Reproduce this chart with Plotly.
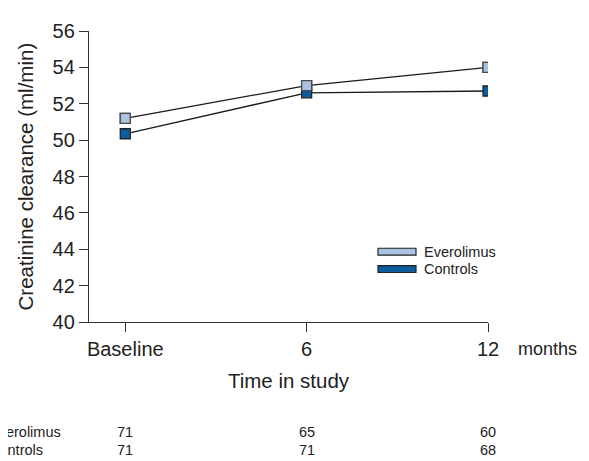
import plotly.graph_objects as go

# ---- data ----
time_points = [0, 1, 2]
time_labels = ["Baseline", "6", "12"]
everolimus = [51.2, 53.0, 54.0]
controls = [50.35, 52.6, 52.7]
n_everolimus = ["71", "65", "60"]
n_controls = ["71", "71", "68"]
y_ticks = [40, 42, 44, 46, 48, 50, 52, 54, 56]

# page offset (browser body margin) so screen coords match the reference
OX, OY = 8, 8
W, H = 581, 453
L, R, T, B = 81, 101, 20, 139
FONT = "Liberation Sans, Arial, sans-serif"
TXT = "#222222"
LIGHT = "#a9c3e1"
DARK = "#0b5d9e"
EDGE = "#4a4a4a"

fig = go.Figure()
fig.add_trace(go.Scatter(x=time_points, y=everolimus, mode="lines+markers", name="Everolimus",
                         line=dict(color="#1a1a1a", width=1.3),
                         marker=dict(symbol="square", size=10, color=LIGHT,
                                     line=dict(color=EDGE, width=1.3)),
                         showlegend=False))
fig.add_trace(go.Scatter(x=time_points, y=controls, mode="lines+markers", name="Controls",
                         line=dict(color="#1a1a1a", width=1.3),
                         marker=dict(symbol="square", size=10, color=DARK,
                                     line=dict(color="#222222", width=1.3)),
                         showlegend=False))
fig.add_trace(go.Scatter(x=time_points, y=everolimus, mode="markers", hoverinfo="skip",
                         marker=dict(symbol="square", size=10, color=LIGHT,
                                     line=dict(color=EDGE, width=1.3)),
                         showlegend=False))

fig.update_layout(
    width=W, height=H,
    margin=dict(l=L, r=R, t=T, b=B),
    paper_bgcolor="white", plot_bgcolor="white",
    font=dict(family=FONT, color=TXT),
    xaxis=dict(range=[-0.2, 2.0], tickvals=time_points, ticktext=time_labels,
               showline=True, linecolor="#333333", linewidth=1.3,
               ticks="outside", ticklen=9, tickcolor="#333333", tickwidth=1.3,
               showgrid=False, zeroline=False,
               tickfont=dict(size=20, family=FONT, color=TXT),
               title=dict(text="Time in study", font=dict(size=20.5, family=FONT, color=TXT),
                          standoff=14)),
    yaxis=dict(range=[40, 56], tickvals=y_ticks,
               showline=True, linecolor="#333333", linewidth=1.3,
               ticks="outside", ticklen=9, tickcolor="#333333", tickwidth=1.3,
               showgrid=False, zeroline=False,
               tickfont=dict(size=20, family=FONT, color=TXT)),
)

def px_x(p):
    return (p - OX - L) / (W - L - R)

def px_y(p):
    return (H - B - (p - OY)) / (H - T - B)

# y-axis title
fig.add_annotation(x=px_x(25), y=px_y(175), xref="paper", yref="paper",
                   text="Creatinine clearance (ml/min)", textangle=-90,
                   xanchor="center", yanchor="middle", showarrow=False,
                   font=dict(size=20.5, family=FONT, color=TXT))

# "months" label
fig.add_annotation(x=px_x(516), y=px_y(349), xref="paper", yref="paper", text="months",
                   xanchor="left", yanchor="middle", showarrow=False,
                   font=dict(size=18, family=FONT, color=TXT))

# number-at-risk table
for row_label, values, yp in [("Everolimus", n_everolimus, 433), ("Controls", n_controls, 451)]:
    fig.add_annotation(x=px_x(-13), y=px_y(yp), xref="paper", yref="paper", text=row_label,
                       xanchor="left", yanchor="middle", showarrow=False,
                       font=dict(size=14.5, family=FONT, color=TXT))
    for xv, v in zip(time_points, values):
        fig.add_annotation(x=xv, y=px_y(yp), xref="x", yref="paper", text=v,
                           xanchor="center", yanchor="middle", showarrow=False,
                           font=dict(size=14.5, family=FONT, color=TXT))

# legend drawn manually
for name, col, yc in [("Everolimus", LIGHT, 251), ("Controls", DARK, 268.5)]:
    fig.add_shape(type="rect", xref="paper", yref="paper",
                  x0=px_x(378), x1=px_x(416), y0=px_y(yc - 3.5), y1=px_y(yc + 3.5),
                  fillcolor=col, line=dict(color="#222222", width=1.2))
    fig.add_annotation(x=px_x(422), y=px_y(yc), xref="paper", yref="paper", text=name,
                       xanchor="left", yanchor="middle", showarrow=False,
                       font=dict(size=14.5, family=FONT, color=TXT))

fig.write_html("out.html")
